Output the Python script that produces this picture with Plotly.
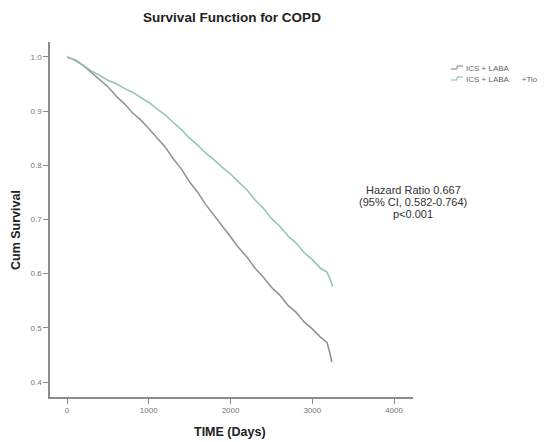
import plotly.graph_objects as go

# ---- data ----
days_ics_laba = [0, 100, 200, 300, 400, 500, 600, 700, 800, 900, 1000, 1100, 1200,
                 1300, 1400, 1500, 1600, 1700, 1800, 1900, 2000, 2100, 2200, 2300,
                 2400, 2500, 2600, 2700, 2800, 2900, 3000, 3100, 3180, 3210, 3240]
surv_ics_laba = [1.000, 0.994, 0.984, 0.971, 0.958, 0.945, 0.928, 0.914, 0.897, 0.884,
                 0.868, 0.850, 0.834, 0.812, 0.793, 0.769, 0.750, 0.727, 0.708, 0.687,
                 0.668, 0.648, 0.631, 0.610, 0.594, 0.575, 0.561, 0.542, 0.529, 0.511,
                 0.498, 0.483, 0.473, 0.457, 0.437]

days_ics_laba_tio = [0, 100, 200, 300, 400, 500, 600, 700, 800, 900, 1000, 1100, 1200,
                     1300, 1400, 1500, 1600, 1700, 1800, 1900, 2000, 2100, 2200, 2300,
                     2400, 2500, 2600, 2700, 2800, 2900, 3000, 3100, 3180, 3215, 3250]
surv_ics_laba_tio = [1.000, 0.995, 0.985, 0.974, 0.966, 0.957, 0.951, 0.942, 0.935, 0.925,
                     0.916, 0.904, 0.893, 0.879, 0.866, 0.850, 0.837, 0.822, 0.810, 0.796,
                     0.784, 0.769, 0.755, 0.736, 0.721, 0.702, 0.688, 0.670, 0.657, 0.639,
                     0.626, 0.610, 0.603, 0.591, 0.576]

series_names = ["ICS + LABA", "ICS + LABA      +Tio"]
x_ticks = [0, 1000, 2000, 3000, 4000]
y_ticks = [0.4, 0.5, 0.6, 0.7, 0.8, 0.9, 1.0]
hr_lines = ["Hazard Ratio 0.667", "(95% CI, 0.582-0.764)", "p<0.001"]

# ---- geometry (page has an 8px body margin; work in window pixels) ----
OFF = 8
W, H = 548 - OFF, 442 - OFF
L, R, T, B = 50 - OFF, 413 - OFF, 42 - OFF, 397 - OFF


def px(x):
    return (x - OFF - L) / (R - L)


def py(y):
    return (B - (y - OFF)) / (B - T)


col_a = "#8c9793"
col_b = "#94c6b6"
font = "Liberation Sans, Arial, sans-serif"

fig = go.Figure()
fig.add_trace(go.Scatter(x=days_ics_laba, y=surv_ics_laba, mode="lines",
                         name=series_names[0], line=dict(color=col_a, width=1.6),
                         showlegend=False))
fig.add_trace(go.Scatter(x=days_ics_laba_tio, y=surv_ics_laba_tio, mode="lines",
                         name=series_names[1], line=dict(color=col_b, width=1.6),
                         showlegend=False))

axis_col = "#8c8c8c"
fig.update_xaxes(range=[-208, 4232], tickvals=x_ticks, showgrid=False, zeroline=False,
                 showline=True, linecolor=axis_col, linewidth=1.5, ticks="outside",
                 ticklen=5, tickcolor=axis_col, tickwidth=1.2,
                 tickfont=dict(family=font, size=8, color="#777777"))
fig.update_yaxes(range=[0.3724, 1.0276], tickvals=y_ticks, tickformat=".1f",
                 showgrid=False, zeroline=False, showline=True, linecolor=axis_col,
                 linewidth=1.5, ticks="outside", ticklen=5, tickcolor=axis_col,
                 tickwidth=1.2, tickfont=dict(family=font, size=8, color="#777777"))

annotations = []
# axis titles
annotations.append(dict(text="<b>TIME (Days)</b>", xref="paper", yref="paper",
                        x=px(230), y=py(432), xanchor="center", yanchor="middle",
                        showarrow=False, font=dict(family=font, size=12.5, color="#222222")))
annotations.append(dict(text="<b>Cum Survival</b>", xref="paper", yref="paper",
                        x=px(16), y=py(230), xanchor="center", yanchor="middle",
                        textangle=-90, showarrow=False,
                        font=dict(family=font, size=12.5, color="#222222")))
# hazard text
for i, t in enumerate(hr_lines):
    annotations.append(dict(text=t, xref="paper", yref="paper", x=px(413),
                            y=py(190 + 12 * i), xanchor="center", yanchor="middle",
                            showarrow=False, font=dict(family=font, size=11, color="#333333")))
# legend (manual)
shapes = []
for i, (nm, c) in enumerate(zip(series_names, [col_a, col_b])):
    yy = 68 + 11 * i
    annotations.append(dict(text=nm, xref="paper", yref="paper", x=px(464),
                            y=py(yy), xanchor="left", yanchor="middle", showarrow=False,
                            font=dict(family=font, size=8, color="#666666")))
    shapes.append(dict(type="line", xref="paper", yref="paper", x0=px(451), x1=px(457),
                       y0=py(yy + 1), y1=py(yy + 1), line=dict(color=c, width=1.2)))
    shapes.append(dict(type="line", xref="paper", yref="paper", x0=px(457), x1=px(457),
                       y0=py(yy + 1), y1=py(yy - 2), line=dict(color=c, width=1.2)))
    shapes.append(dict(type="line", xref="paper", yref="paper", x0=px(457), x1=px(463),
                       y0=py(yy - 2), y1=py(yy - 2), line=dict(color=c, width=1.2)))

fig.update_layout(
    width=W, height=H,
    margin=dict(l=L, r=W - R, t=T, b=H - B, autoexpand=False),
    paper_bgcolor="white", plot_bgcolor="white",
    title=dict(text="<b>Survival Function for COPD</b>", x=(232 - OFF) / W,
               xref="container", y=1 - (17 - OFF) / H, yref="container",
               xanchor="center", yanchor="middle",
               font=dict(family=font, size=13.5, color="#222222")),
    annotations=annotations, shapes=shapes,
)

fig.write_html("out.html")
